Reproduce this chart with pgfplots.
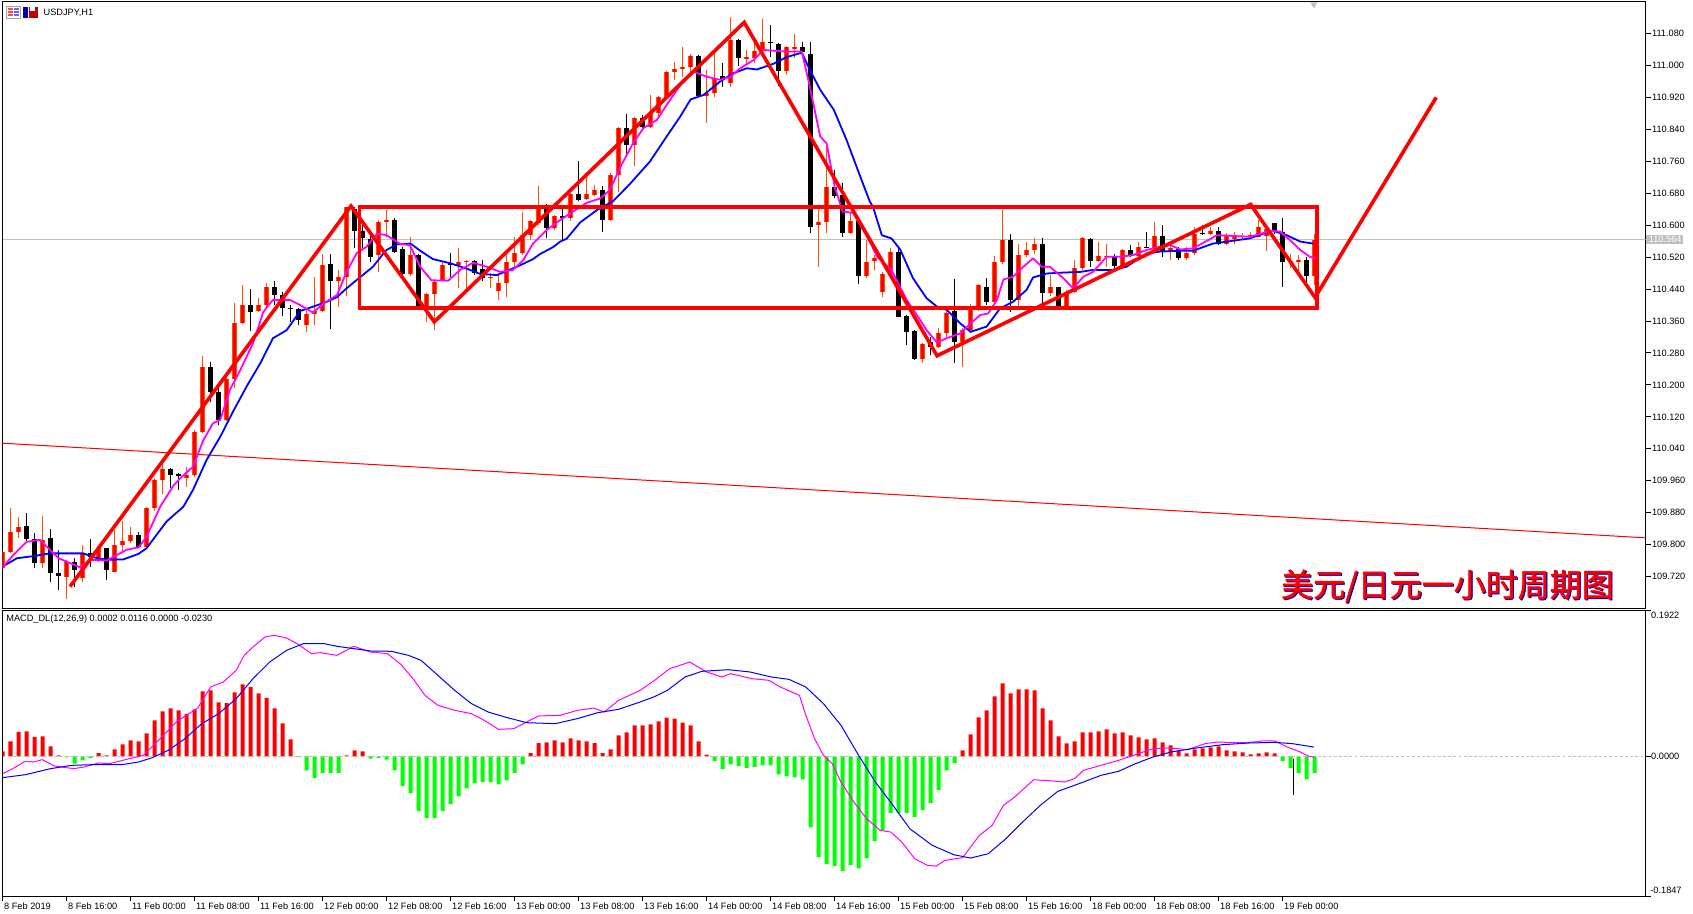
\documentclass[border=0pt]{standalone}
\usepackage{fontspec}
\setmainfont{Liberation Sans}
\newfontfamily\cjk[FakeBold=1.5]{Noto Sans CJK SC}
\usepackage{pgfplots}
\pgfplotsset{compat=1.18}
\usepackage{pgfplotstable}
\definecolor{bullo}{RGB}{255,80,0}
\definecolor{bulli}{RGB}{255,0,0}
\definecolor{mtgreen}{RGB}{0,255,0}
\definecolor{mtgray}{RGB}{192,192,192}
\definecolor{mtmag}{RGB}{255,0,255}
\definecolor{mtblue}{RGB}{0,0,255}
\newcommand\tf{\fontsize{4.6}{5.5}\selectfont}

\pgfplotstableread{
i O H L C
0 109.741 109.786 109.736 109.782
1 109.782 109.891 109.778 109.832
2 109.832 109.870 109.816 109.845
5 109.753 109.872 109.741 109.812
8 109.720 109.762 109.663 109.757
10 109.716 109.799 109.707 109.777
12 109.762 109.795 109.757 109.791
14 109.732 109.837 109.732 109.799
15 109.799 109.858 109.782 109.809
16 109.810 109.845 109.803 109.824
18 109.795 109.895 109.791 109.891
19 109.891 109.966 109.883 109.963
20 109.963 110.004 109.927 109.989
23 109.968 109.995 109.945 109.974
24 109.974 110.087 109.970 110.081
25 110.081 110.272 110.079 110.244
28 110.112 110.221 110.110 110.214
29 110.214 110.404 110.191 110.354
30 110.354 110.450 110.352 110.400
32 110.386 110.417 110.383 110.400
33 110.400 110.456 110.396 110.446
38 110.350 110.388 110.333 110.378
39 110.378 110.469 110.350 110.386
40 110.386 110.529 110.383 110.500
42 110.461 110.488 110.396 110.469
43 110.469 110.646 110.423 110.645
47 110.525 110.613 110.483 110.609
48 110.609 110.638 110.571 110.613
51 110.479 110.571 110.473 110.525
53 110.396 110.429 110.358 110.428
54 110.428 110.463 110.337 110.458
55 110.463 110.509 110.459 110.500
57 110.500 110.542 110.442 110.507
58 110.507 110.513 110.442 110.511
61 110.467 110.480 110.442 110.471
62 110.434 110.480 110.413 110.455
63 110.455 110.526 110.421 110.507
64 110.507 110.571 110.496 110.530
65 110.530 110.634 110.526 110.576
66 110.576 110.613 110.563 110.611
67 110.605 110.697 110.601 110.640
69 110.592 110.626 110.588 110.622
71 110.617 110.680 110.611 110.678
73 110.665 110.722 110.663 110.678
74 110.676 110.701 110.673 110.687
76 110.613 110.730 110.611 110.726
77 110.726 110.847 110.684 110.843
79 110.801 110.872 110.747 110.868
81 110.847 110.926 110.843 110.880
82 110.880 110.924 110.874 110.922
83 110.922 110.986 110.918 110.983
84 110.983 111.008 110.964 110.990
85 110.990 111.046 110.972 110.995
86 110.995 111.030 110.972 111.024
88 110.924 110.989 110.857 110.930
89 110.930 111.039 110.920 110.968
91 110.955 111.121 110.947 111.064
93 111.016 111.039 111.001 111.020
94 111.018 111.060 111.005 111.037
95 111.037 111.116 111.026 111.058
98 110.987 111.049 110.976 111.046
99 111.041 111.079 111.018 111.046
102 110.601 110.640 110.495 110.607
103 110.607 110.809 110.580 110.695
106 110.581 110.634 110.579 110.611
108 110.474 110.563 110.467 110.509
109 110.510 110.525 110.488 110.517
110 110.432 110.483 110.421 110.478
111 110.477 110.542 110.471 110.534
115 110.264 110.304 110.254 110.302
117 110.294 110.342 110.292 110.329
118 110.329 110.392 110.321 110.379
120 110.308 110.342 110.244 110.337
121 110.337 110.403 110.329 110.389
122 110.389 110.453 110.386 110.450
124 110.408 110.523 110.404 110.509
125 110.509 110.638 110.504 110.563
127 110.413 110.554 110.396 110.525
128 110.525 110.559 110.521 110.539
129 110.539 110.567 110.529 110.553
131 110.429 110.475 110.423 110.444
133 110.396 110.438 110.392 110.433
134 110.433 110.513 110.429 110.492
135 110.492 110.571 110.488 110.567
137 110.511 110.559 110.509 110.523
138 110.521 110.554 110.496 110.523
140 110.498 110.540 110.492 110.538
142 110.524 110.559 110.521 110.546
144 110.544 110.607 110.542 110.573
146 110.534 110.550 110.513 110.542
148 110.517 110.546 110.513 110.531
149 110.531 110.596 110.525 110.579
151 110.579 110.596 110.575 110.586
153 110.553 110.580 110.550 110.575
154 110.566 110.584 110.554 110.573
155 110.571 110.580 110.565 110.573
156 110.571 110.584 110.565 110.575
157 110.571 110.613 110.571 110.596
158 110.573 110.600 110.536 110.590
161 110.509 110.529 110.492 110.510
162 110.509 110.525 110.479 110.513
164 110.473 110.579 110.450 110.563
}\bull

\pgfplotstableread{
i O H L C
3 109.847 109.878 109.803 109.813
4 109.813 109.828 109.741 109.753
6 109.816 109.838 109.707 109.728
7 109.728 109.787 109.686 109.721
9 109.757 109.766 109.695 109.736
11 109.778 109.813 109.745 109.770
13 109.791 109.791 109.711 109.736
17 109.824 109.832 109.791 109.795
21 109.989 109.991 109.941 109.974
22 109.977 109.979 109.937 109.972
26 110.244 110.258 110.158 110.181
27 110.183 110.206 110.100 110.112
31 110.400 110.439 110.335 110.383
34 110.446 110.461 110.400 110.425
35 110.425 110.433 110.372 110.392
36 110.392 110.400 110.358 110.390
37 110.390 110.392 110.350 110.362
41 110.503 110.528 110.339 110.461
44 110.640 110.646 110.544 110.586
45 110.585 110.604 110.538 110.567
46 110.565 110.575 110.508 110.521
49 110.613 110.617 110.531 110.534
50 110.540 110.546 110.473 110.478
52 110.525 110.527 110.394 110.396
56 110.505 110.530 110.471 110.500
59 110.511 110.513 110.475 110.480
60 110.490 110.513 110.459 110.467
68 110.640 110.652 110.567 110.592
70 110.622 110.640 110.563 110.617
72 110.678 110.761 110.661 110.663
75 110.687 110.697 110.584 110.613
78 110.843 110.879 110.778 110.801
80 110.868 110.876 110.843 110.847
87 111.024 111.026 110.922 110.924
90 110.974 111.005 110.945 110.964
92 111.064 111.066 110.999 111.018
96 111.058 111.101 111.022 111.056
97 111.054 111.056 110.949 110.987
100 111.046 111.060 111.022 111.035
101 111.030 111.060 110.580 110.596
104 110.695 110.738 110.667 110.674
105 110.676 110.705 110.571 110.581
107 110.611 110.613 110.453 110.474
112 110.534 110.546 110.369 110.371
113 110.372 110.375 110.300 110.333
114 110.336 110.338 110.262 110.264
116 110.308 110.321 110.275 110.296
119 110.386 110.464 110.256 110.308
123 110.446 110.467 110.400 110.408
126 110.563 110.578 110.383 110.413
130 110.553 110.567 110.404 110.429
132 110.444 110.446 110.394 110.396
136 110.565 110.567 110.496 110.511
139 110.523 110.529 110.492 110.498
141 110.538 110.550 110.521 110.524
143 110.546 110.584 110.542 110.544
145 110.573 110.600 110.521 110.534
147 110.540 110.546 110.513 110.517
150 110.581 110.600 110.575 110.578
152 110.586 110.595 110.550 110.553
159 110.605 110.606 110.579 110.584
160 110.584 110.617 110.444 110.509
163 110.513 110.521 110.458 110.473
}\bear

\begin{document}
\begin{tikzpicture}
\fill[white, use as bounding box] (0,0) rectangle (846.5pt,-457pt);

% ---------------- main price panel ----------------
\begin{axis}[
  at={(1.3pt,-1pt)}, anchor=north west, scale only axis,
  width=821.45pt, height=303.15pt,
  xmin=0, xmax=205.36, ymin=109.6405, ymax=111.159,
  clip mode=individual,
  axis line style={line width=0.5pt},
  xtick=\empty,
  ytick={109.72,109.80,109.88,109.96,110.04,110.12,110.20,110.28,110.36,110.44,110.52,110.60,110.68,110.76,110.84,110.92,111.00,111.08},
  ytick pos=right, yticklabel pos=right,
  tick align=outside, major tick length=2.5pt,
  tick style={black, line width=0.5pt},
  /pgf/number format/assume math mode=true,
  y tick label style={/pgf/number format/.cd, fixed, fixed zerofill, precision=3, /tikz/.cd, font=\tf, anchor=west, inner sep=0.6pt},
]
% last price line
\addplot[mtgray, line width=0.5pt, forget plot] coordinates {(0,110.564) (205.36,110.564)};
% thin red trend line
\addplot[red, line width=0.5pt, forget plot] coordinates {(0,110.054) (205.36,109.817)};

% candle wicks
\addplot[draw=none, mark=none, forget plot, error bars/.cd, y dir=plus, y explicit, error mark=none,
  error bar style={draw=bullo, line width=0.5pt}]
  table[x=i, y=L, y error expr=\thisrow{H}-\thisrow{L}] {\bull};
\addplot[draw=none, mark=none, forget plot, error bars/.cd, y dir=plus, y explicit, error mark=none,
  error bar style={draw=black, line width=0.5pt}]
  table[x=i, y=L, y error expr=\thisrow{H}-\thisrow{L}] {\bear};
% candle bodies
\addplot[draw=none, mark=none, forget plot, error bars/.cd, y dir=plus, y explicit, error mark=none,
  error bar style={draw=bullo, line width=2.5pt}]
  table[x=i, y=O, y error expr={max(\thisrow{C}-\thisrow{O},0.0025)}] {\bull};
\addplot[draw=none, mark=none, forget plot, error bars/.cd, y dir=plus, y explicit, error mark=none,
  error bar style={draw=bulli, line width=1.4pt}]
  table[x=i, y=O, y error expr={max(\thisrow{C}-\thisrow{O},0.0025)}] {\bull};
\addplot[draw=none, mark=none, forget plot, error bars/.cd, y dir=plus, y explicit, error mark=none,
  error bar style={draw=black, line width=2.5pt}]
  table[x=i, y=C, y error expr={max(\thisrow{O}-\thisrow{C},0.0025)}] {\bear};

% moving averages
\addplot[mtblue, line width=0.9pt, line join=round] coordinates {
(0,109.745) (1.8,109.766) (3.8,109.771) (5.9,109.778) (10.1,109.778) (11.8,109.766) (13,109.762) (15.1,109.763) (17,109.777) (18,109.791) (20.5,109.858) (22.6,109.895) (23.8,109.937) (25.5,110.012) (27.2,110.070) (28.8,110.133) (30.5,110.196) (32.2,110.254) (33.8,110.317) (35.5,110.337) (37.2,110.385) (38.8,110.396) (40.5,110.408) (41.8,110.420) (43,110.442) (44.7,110.470) (46.3,110.496) (47.6,110.529) (48,110.538) (49.3,110.552) (51,110.554) (52.2,110.536) (53.8,110.515) (55.9,110.505) (57.9,110.492) (59.7,110.478) (61.8,110.475) (63.8,110.492) (64.3,110.496) (66.3,110.515) (67.2,110.528) (68.8,110.545) (69.7,110.559) (70.5,110.566) (72.2,110.607) (74.3,110.638) (76.3,110.660) (78.4,110.703) (80.9,110.759) (83,110.822) (84.7,110.872) (86,110.915) (87.6,110.926) (89.7,110.960) (91.3,110.980) (93,110.993) (94.3,110.990) (96.3,111.004) (98,111.021) (99.9,111.032) (100.9,110.989) (102.2,110.939) (103.9,110.889) (105.5,110.813) (107.2,110.722) (108.4,110.659) (108.8,110.646) (109.9,110.575) (111.1,110.567) (112.2,110.539) (113.8,110.467) (115.5,110.417) (116.8,110.396) (118,110.388) (119.7,110.354) (121,110.333) (123,110.346) (124.7,110.392) (126.3,110.408) (128,110.438) (128.8,110.469) (130.5,110.479) (132.2,110.481) (134.7,110.483) (136.3,110.488) (138.8,110.488) (140.5,110.496) (143,110.529) (144.7,110.534) (147.2,110.536) (148.8,110.536) (151.3,110.554) (153.8,110.561) (155.9,110.567) (157.6,110.579) (158.8,110.586) (160.5,110.575) (162.2,110.559) (163.8,110.554)
};
\addplot[mtmag, line width=0.9pt, line join=round] coordinates {
(0,109.743) (1.34,109.774) (3,109.807) (4.7,109.812) (5.9,109.787) (7,109.766) (9.7,109.743) (10.9,109.762) (13,109.760) (14,109.771) (15.5,109.787) (17,109.793) (18,109.820) (19.7,109.895) (21.4,109.949) (22.4,109.970) (23.8,109.995) (25.1,110.062) (26.3,110.104) (27.2,110.112) (28.4,110.187) (29.7,110.237) (31.3,110.304) (32.6,110.383) (33.8,110.413) (35.9,110.413) (37.2,110.400) (38.8,110.381) (40.1,110.404) (41.8,110.425) (43,110.483) (44.3,110.531) (45.5,110.546) (46.8,110.579) (48,110.575) (49.7,110.553) (50.9,110.550) (52.2,110.496) (53.6,110.462) (55.7,110.461) (57.2,110.488) (58.8,110.506) (60.5,110.496) (62.2,110.483) (63.8,110.488) (65.1,110.513) (66.3,110.554) (68,110.588) (69.7,110.613) (71.3,110.634) (73,110.656) (74.7,110.667) (75.9,110.688) (77.2,110.745) (78.8,110.805) (80.1,110.843) (81.8,110.864) (83,110.901) (84.7,110.951) (86.3,110.985) (88,110.972) (89.7,110.964) (91,110.972) (92.2,110.993) (93.9,111.014) (95.1,111.039) (96.3,111.037) (98,111.035) (99.9,111.035) (100.9,110.947) (102.2,110.822) (103,110.805) (104,110.697) (105,110.634) (106.3,110.631) (108.4,110.559) (109.3,110.521) (111.1,110.488) (113,110.413) (114.3,110.375) (115.5,110.337) (116.8,110.306) (118,110.317) (119.7,110.329) (121,110.354) (122.2,110.375) (123.2,110.379) (124.3,110.413) (125.1,110.464) (126.3,110.471) (127.6,110.496) (128.8,110.517) (129.9,110.496) (130.9,110.496) (132.6,110.467) (133.8,110.442) (135.1,110.471) (136.3,110.483) (138,110.521) (139.7,110.521) (141.3,110.525) (143,110.538) (144.7,110.546) (146,110.550) (147.2,110.539) (148.8,110.542) (150.1,110.556) (151.8,110.575) (153.8,110.573) (155.9,110.571) (157.2,110.578) (158.4,110.586) (159.7,110.584) (160.9,110.563) (162.2,110.538) (163.4,110.521) (164.1,110.517)
};

% hand-drawn annotations
\addplot[red, line width=1.8pt, line join=miter] coordinates {
(44.6,110.645) (164.3,110.645) (164.3,110.393) (44.6,110.393) (44.6,110.645) (164.3,110.645)};
\addplot[red, line width=1.8pt, line join=miter] coordinates {
(8.43,109.695) (43.55,110.648) (53.96,110.358) (92.7,111.108) (116.8,110.273) (156.0,110.652) (164.05,110.419) (179.2,110.920)};

% chart shift marker
\addplot[only marks, mark=triangle*, mark size=1.6pt, mark options={rotate=180, fill=mtgray, draw=mtgray}] coordinates {(163.9,111.153)};

\node[fill=mtgray, text=white, font=\tf, inner sep=0.7pt, anchor=west] at (axis cs:205.36,110.564) {\hspace{0.8pt}110.564};
\end{axis}

% ---------------- MACD panel ----------------
\begin{axis}[
  at={(1.3pt,-305.5pt)}, anchor=north west, scale only axis,
  width=821.45pt, height=142.5pt,
  xmin=0, xmax=205.36, ymin=-0.1847, ymax=0.1922,
  clip mode=individual,
  axis line style={line width=0.5pt},
  xtick={0,8,16,24,32,40,48,56,64,72,80,88,96,104,112,120,128,136,144,152,160},
  xticklabels={8 Feb 2019, 8 Feb 16:00, 11 Feb 00:00, 11 Feb 08:00, 11 Feb 16:00, 12 Feb 00:00, 12 Feb 08:00, 12 Feb 16:00, 13 Feb 00:00, 13 Feb 08:00, 13 Feb 16:00, 14 Feb 00:00, 14 Feb 08:00, 14 Feb 16:00, 15 Feb 00:00, 15 Feb 08:00, 15 Feb 16:00, 18 Feb 00:00, 18 Feb 08:00, 18 Feb 16:00, 19 Feb 00:00},
  xtick pos=bottom,
  x tick label style={font=\tf, anchor=north west, inner sep=0.6pt},
  ytick={-0.1847,0,0.1922}, yticklabels={,,},
  ytick pos=right,
  tick align=outside, major tick length=2.5pt,
  tick style={black, line width=0.5pt},
]
\addplot[ybar, bar width=2.1pt, bar shift=0pt, fill=red, draw=none] coordinates {
(0,0.0066)(1,0.0198)(2,0.0322)(3,0.0331)(4,0.0256)(5,0.0265)(6,0.0132)(7,0.0013)(12,0.0044)(13,0.0013)(14,0.0093)(15,0.0159)(16,0.0212)(17,0.0198)(18,0.0304)(19,0.0476)(20,0.0595)(21,0.0635)(22,0.0608)(23,0.0560)(24,0.0622)(25,0.0860)(26,0.0873)(27,0.0714)(28,0.0705)(29,0.0847)(30,0.0952)(31,0.0917)(32,0.0833)(33,0.0772)(34,0.0635)(35,0.0437)(36,0.0225)(43,0.0013)(44,0.0079)(45,0.0066)(66,0.0044)(67,0.0176)(68,0.0185)(69,0.0212)(70,0.0185)(71,0.0238)(72,0.0212)(73,0.0198)(74,0.0176)(75,0.0044)(76,0.0093)(77,0.0278)(78,0.0317)(79,0.0410)(80,0.0410)(81,0.0423)(82,0.0463)(83,0.0511)(84,0.0498)(85,0.0445)(86,0.0410)(87,0.0198)(88,0.0022)(120,0.0079)(121,0.0291)(122,0.0516)(123,0.0608)(124,0.0794)(125,0.0966)(126,0.0833)(127,0.0886)(128,0.0886)(129,0.0873)(130,0.0635)(131,0.0476)(132,0.0265)(133,0.0172)(134,0.0198)(135,0.0317)(136,0.0317)(137,0.0331)(138,0.0357)(139,0.0304)(140,0.0317)(141,0.0278)(142,0.0251)(143,0.0225)(144,0.0238)(145,0.0185)(146,0.0146)(147,0.0075)(148,0.0040)(149,0.0093)(150,0.0106)(151,0.0119)(152,0.0132)(153,0.0079)(154,0.0066)(155,0.0053)(156,0.0026)(157,0.0040)(158,0.0053)(159,0.0040)
};
\addplot[ybar, bar width=2.1pt, bar shift=0pt, fill=mtgreen, draw=none] coordinates {
(8,-0.0013)(9,-0.0097)(10,-0.0053)(11,-0.0022)(37,-0.0009)(38,-0.0185)(39,-0.0287)(40,-0.0220)(41,-0.0220)(42,-0.0220)(46,-0.0031)(47,-0.0022)(48,-0.0044)(49,-0.0185)(50,-0.0392)(51,-0.0485)(52,-0.0723)(53,-0.0816)(54,-0.0816)(55,-0.0723)(56,-0.0631)(57,-0.0529)(58,-0.0423)(59,-0.0353)(60,-0.0340)(61,-0.0340)(62,-0.0370)(63,-0.0317)(64,-0.0220)(65,-0.0106)(89,-0.0062)(90,-0.0168)(91,-0.0106)(92,-0.0128)(93,-0.0154)(94,-0.0141)(95,-0.0119)(96,-0.0119)(97,-0.0238)(98,-0.0265)(99,-0.0278)(100,-0.0304)(101,-0.0939)(102,-0.1332)(103,-0.1424)(104,-0.1451)(105,-0.1517)(106,-0.1437)(107,-0.1481)(108,-0.1349)(109,-0.1120)(110,-0.0979)(111,-0.0750)(112,-0.0750)(113,-0.0750)(114,-0.0802)(115,-0.0710)(116,-0.0617)(117,-0.0445)(118,-0.0185)(119,-0.0088)(160,-0.0062)(161,-0.0154)(162,-0.0220)(163,-0.0304)(164,-0.0220)
};
\addplot[mtgray, line width=0.5pt, dash pattern=on 1.4pt off 1.2pt] coordinates {(0,0) (205.36,0)};
\addplot[mtmag, line width=0.5pt] coordinates {
(0,-0.0229) (1.25,-0.0163) (2.83,-0.0066) (3.9,-0.0075) (4.94,-0.0044) (6.5,-0.0128) (8.9,-0.0163) (10.2,-0.0141) (12,-0.0088) (13.4,-0.0097) (15.5,-0.0040) (17.6,0.0013) (19.7,0.0234) (21.8,0.0463) (24.4,0.0639) (26,0.0917) (27.6,0.0983) (29.2,0.1138) (30.2,0.1336) (31.3,0.1446) (32.8,0.1578) (33.9,0.1601) (35.5,0.1565) (37,0.1477) (38.6,0.1358) (39.7,0.1371) (41.8,0.1336) (43.9,0.1455) (46,0.1380) (48.1,0.1358) (49.7,0.1224) (51.3,0.1027) (52.8,0.0807) (54.4,0.0675) (56.5,0.0609) (58.6,0.0564) (60.2,0.0476) (62,0.0357) (63.9,0.0366) (65.5,0.0454) (67,0.0534) (69.7,0.0542) (71.8,0.0608) (73.9,0.0639) (75.2,0.0586) (77,0.0741) (79.7,0.0873) (81.5,0.1005) (83.4,0.1160) (84.7,0.1204) (85.9,0.1248) (86.9,0.1182) (88,0.1116) (89.9,0.1049) (91,0.1093) (93.7,0.1027) (95.8,0.1005) (97.2,0.0917) (99.6,0.0807) (100.4,0.0542) (101.5,0.0234) (102.6,0.0013) (103.7,-0.0097) (104.8,-0.0340) (106.4,-0.0604) (108,-0.0825) (109.7,-0.0979) (111,-0.1001) (112.4,-0.1133) (114,-0.1353) (115.6,-0.1442) (116.7,-0.1451) (117.8,-0.1376) (120,-0.1340) (122.1,-0.1045) (123.7,-0.0913) (125.1,-0.0648) (126.5,-0.0538) (128.9,-0.0309) (131.3,-0.0326) (132.7,-0.0340) (134,-0.0295) (135.1,-0.0185) (137.3,-0.0119) (139.5,-0.0053) (141.6,0.0022) (143.8,0.0101) (146,0.0110) (148.1,0.0088) (150.3,0.0168) (151.9,0.0190) (153.6,0.0181) (155.7,0.0181) (157.4,0.0203) (159,0.0203) (160.6,0.0123) (162.2,0.0057) (163.3,0.0000) (164,-0.0010)
};
\addplot[mtblue, line width=0.5pt] coordinates {
(0,-0.0282) (2.83,-0.0243) (6,-0.0163) (8.6,-0.0119) (11.3,-0.0110) (14.9,-0.0110) (17,-0.0075) (18.6,-0.0022) (20.7,0.0079) (22.8,0.0234) (24.9,0.0432) (27,0.0564) (29.2,0.0762) (31.3,0.1027) (33.4,0.1248) (35.5,0.1402) (37.6,0.1490) (40.2,0.1490) (41.8,0.1455) (43.9,0.1424) (46,0.1393) (48.6,0.1389) (50.7,0.1336) (52.3,0.1270) (54.4,0.1072) (56.5,0.0873) (58.6,0.0697) (60.7,0.0586) (62.8,0.0520) (65.5,0.0445) (69.1,0.0432) (71.8,0.0498) (74.4,0.0577) (77,0.0622) (79.7,0.0719) (81.5,0.0790) (83.1,0.0873) (85.3,0.1049) (87.4,0.1124) (90.7,0.1146) (93.4,0.1116) (96.1,0.1049) (98.3,0.1018) (100.4,0.0917) (102.6,0.0697) (104.8,0.0410) (107,0.0013) (109.1,-0.0340) (111.3,-0.0649) (113.4,-0.0957) (116.2,-0.1177) (118.9,-0.1301) (121,-0.1345) (123.2,-0.1288) (125.4,-0.1090) (127.5,-0.0869) (129.7,-0.0649) (131.9,-0.0463) (135.1,-0.0340) (137.3,-0.0251) (139.5,-0.0198) (141.6,-0.0097) (143.8,-0.0009) (146,0.0057) (149.2,0.0110) (152.5,0.0154) (155.7,0.0176) (159,0.0185) (161.2,0.0168) (163.9,0.0123)
};
\addplot[black, line width=0.6pt] coordinates {(161.4,-0.0031) (161.4,-0.0507)};
\end{axis}

% MACD value labels
\node[font=\tf, anchor=west, inner sep=0pt] at (825.4pt,-307.6pt) {0.1922};
\node[font=\tf, anchor=west, inner sep=0pt] at (825.4pt,-378pt) {0.0000};
\node[font=\tf, anchor=west, inner sep=0pt] at (825.0pt,-445.3pt) {-0.1847};

% panel captions
\node[font=\tf, anchor=west, inner sep=0pt] at (21.65pt,-6.35pt) {USDJPY,H1};
\node[font=\tf, anchor=west, inner sep=0pt] at (3pt,-309.5pt) {MACD\_DL(12,26,9) 0.0002 0.0116 0.0000 -0.0230};

% window icons
\filldraw[draw=gray!70, fill=white, line width=0.4pt] (3.2pt,-3.2pt) rectangle (10.2pt,-9.1pt);
\foreach \yy in {-4.6,-6.1,-7.6}{
  \draw[red!70, line width=0.7pt] (4pt,\yy pt) -- (6.4pt,\yy pt);
  \draw[blue!60, line width=0.7pt] (6.9pt,\yy pt) -- (9.4pt,\yy pt);
}
\fill[blue!70!black] (11.4pt,-3.4pt) rectangle (14.2pt,-9.1pt);
\fill[red!75!black] (14.6pt,-3.4pt) rectangle (18.8pt,-9.1pt);
\fill[white] (15.2pt,-3.4pt) rectangle (17.4pt,-5.3pt);

% chart title
\node[font={\cjk\fontsize{16}{16}\selectfont}, text=blue!70!black, inner sep=0pt] at (724.3pt,-293.5pt) {美元/日元一小时周期图};
\node[font={\cjk\fontsize{16}{16}\selectfont}, text=red, inner sep=0pt] at (723.75pt,-293pt) {美元/日元一小时周期图};
\end{tikzpicture}
\end{document}
